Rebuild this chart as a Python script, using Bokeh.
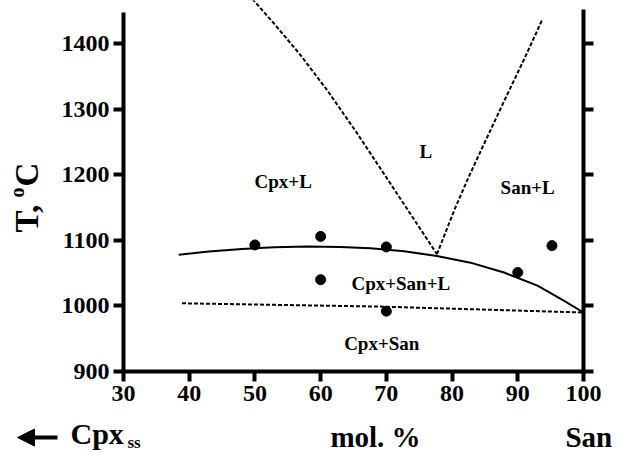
import math
from bokeh.plotting import figure
from bokeh.models import Range1d, LinearAxis, FixedTicker, Label, Arrow, NormalHead, ColumnDataSource
from bokeh.embed import file_html
from bokeh.resources import INLINE
from bokeh.core.properties import value

# ---------------- data ----------------
x_ticks = [30, 40, 50, 60, 70, 80, 90, 100]
y_ticks = [900, 1000, 1100, 1200, 1300, 1400]

# experimental points
dots_x = [50, 60, 60, 70, 70, 90, 95.2]
dots_t = [1093, 1106, 1040, 1090, 992, 1051, 1092]

# solid curve (Cpx+L / Cpx+San+L boundary)
sol_x = [38.4, 43, 48, 53, 58, 63, 67.6, 72.7, 77.7, 82.8, 87.9, 93.0, 97.0, 100]
sol_t = [1078, 1083, 1087, 1089.5, 1090.5, 1090, 1088, 1083.5, 1076, 1066, 1051, 1031, 1008, 990]

# lower dashed line (Cpx+San+L / Cpx+San)
sub_x = [38.9, 69, 100]
sub_t = [1004, 999, 990]

# liquidus branches (dashed)
liqL_x = [48.4, 49.8, 53.3, 56.9, 61.0, 65.5, 69.6, 77.7]
liqL_t = [1482, 1466, 1426, 1383, 1329, 1264, 1202, 1079]
liqR_x = [77.7, 79.0, 80.5, 82.5, 85.0, 88.0, 91.0, 93.7]
liqR_t = [1079, 1112, 1150, 1196, 1250, 1314, 1377, 1436]

# phase field labels
regions = ["Cpx+L", "L", "San+L", "Cpx+San+L", "Cpx+San"]
reg_x = [54.3, 76, 91.5, 72.2, 69.3]
reg_t = [1190, 1236, 1180, 1034, 942]

FONT = "Liberation Serif"

# ---------------- figure ----------------
p = figure(width=621, height=452,
           x_range=Range1d(11.283, 105.783), y_range=Range1d(776.47, 1465.8),
           x_axis_location=None, y_axis_location=None,
           output_backend="svg", toolbar_location=None, min_border=0)
p.outline_line_color = None
p.xgrid.visible = False
p.ygrid.visible = False
p.background_fill_color = "white"
p.border_fill_color = "white"


def style(ax, ticks, bounds, labels=True):
    ax.ticker = FixedTicker(ticks=ticks)
    ax.bounds = bounds
    ax.axis_line_width = 4
    ax.axis_line_color = "black"
    ax.major_tick_line_width = 4
    ax.major_tick_line_color = "black"
    ax.major_tick_out = 10
    ax.major_tick_in = 0
    ax.minor_tick_line_color = None
    ax.major_label_text_font = FONT
    ax.major_label_text_font_style = "bold"
    ax.major_label_text_font_size = "24px"
    ax.major_label_text_color = "black" if labels else None
    ax.major_label_standoff = 4


xax = LinearAxis(fixed_location=900)
style(xax, x_ticks, (30, 100))
p.add_layout(xax, "below")
yax = LinearAxis(fixed_location=30)
style(yax, y_ticks, (900, 1447))
p.add_layout(yax, "left")
rax = LinearAxis(fixed_location=100)
style(rax, y_ticks, (900, 1452), labels=False)
p.add_layout(rax, "right")

# ---------------- curves ----------------
p.line(liqL_x, liqL_t, line_color="black", line_width=2, line_dash="4 2")
p.line(liqR_x, liqR_t, line_color="black", line_width=2, line_dash="4 2")
p.line(sub_x, sub_t, line_color="black", line_width=2, line_dash="4 2")
p.line(sol_x, sol_t, line_color="black", line_width=2)
p.scatter(dots_x, dots_t, size=10, fill_color="black", line_color="black")

src = ColumnDataSource(dict(x=reg_x, y=reg_t, t=regions))
p.text(x="x", y="y", text="t", source=src, text_font=value(FONT),
       text_font_style="bold", text_font_size="19px", text_color="black",
       text_align="center", text_baseline="middle")

# ---------------- outside labels ----------------
def lab(x, y, text, size, align="left", angle=0.0):
    p.add_layout(Label(x=x, y=y, text=text, text_font=FONT, text_font_style="bold",
                       text_font_size=size, text_color="black", text_align=align,
                       text_baseline="alphabetic", angle=angle))

lab(68.35, 800.3, "mol. %", "29px", align="center")
lab(97.26, 800.3, "San", "29px")
lab(21.93, 805.0, "Cpx", "30px")
lab(30.6, 791.1, "ss", "17px")

# rotated y label "T, oC"
lab(15.39, 1112, "T,", "33px", angle=math.pi / 2)
lab(13.76, 1165.4, "o", "20px", angle=math.pi / 2)
lab(15.39, 1182, "C", "33px", angle=math.pi / 2)

# arrow pointing to Cpx side
p.add_layout(Arrow(end=NormalHead(size=17, fill_color="black", line_color="black"),
                   x_start=19.96, y_start=799.3, x_end=13.87, y_end=799.3,
                   line_width=4, line_color="black"))

open("out.html", "w").write(file_html(p, INLINE))
